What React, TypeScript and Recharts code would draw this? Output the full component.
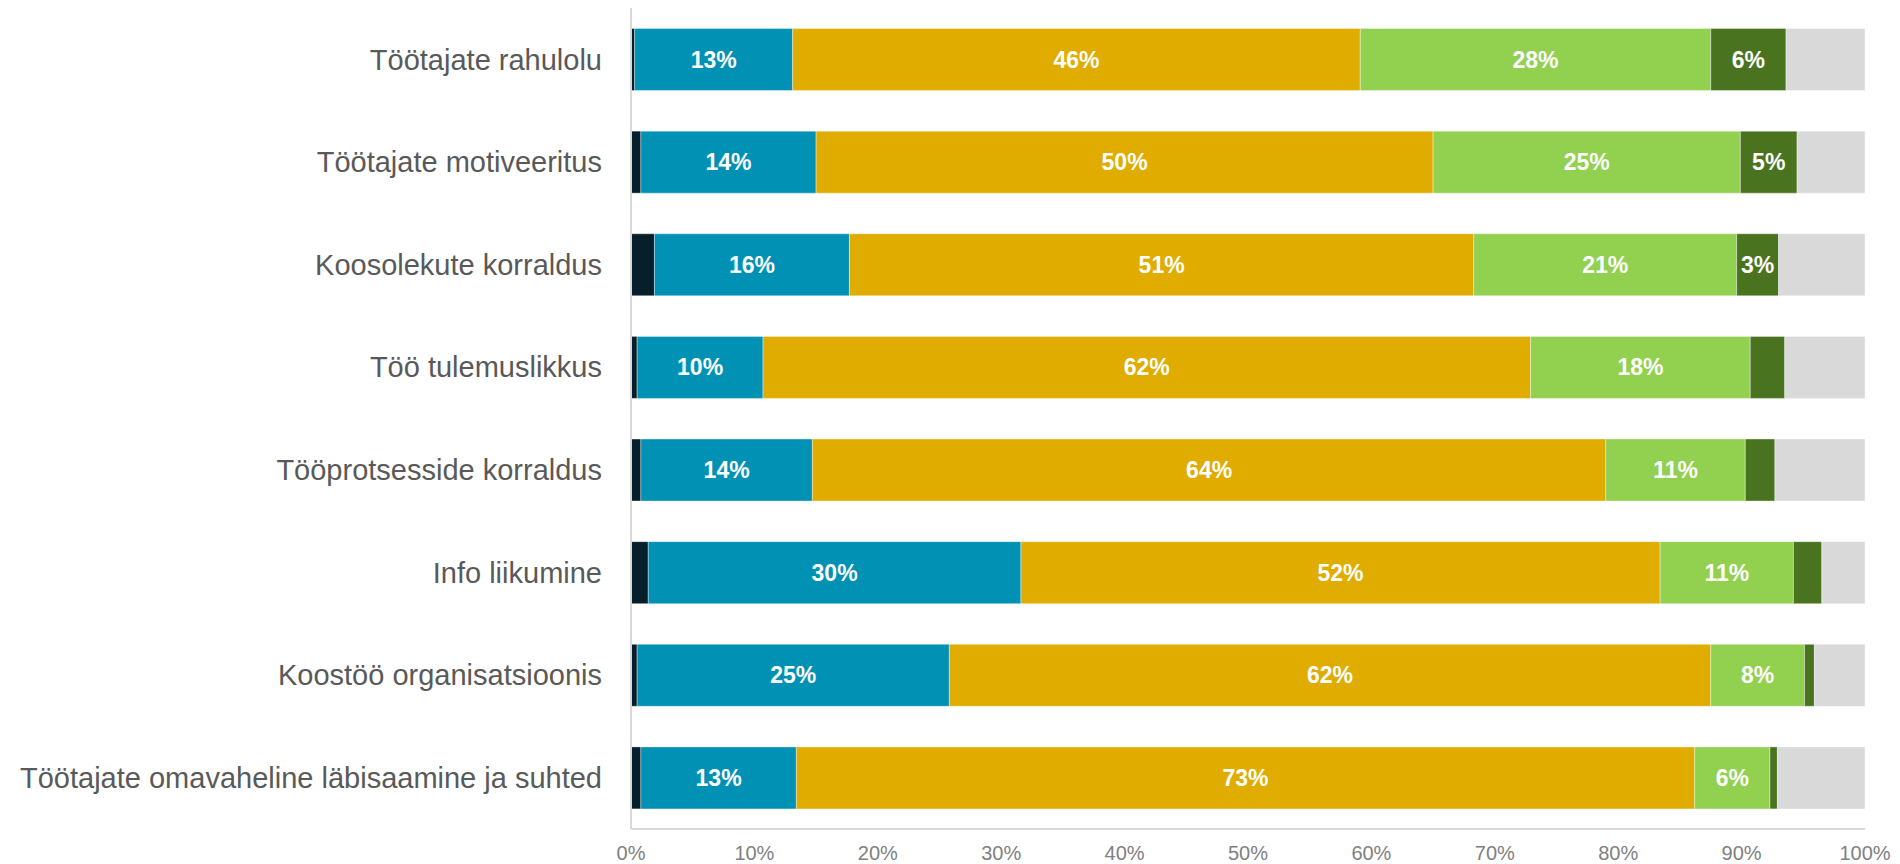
import React from 'react';
import { BarChart, Bar, XAxis, YAxis, LabelList } from 'recharts';

const categories = [
  'Töötajate rahulolu',
  'Töötajate motiveeritus',
  'Koosolekute korraldus',
  'Töö tulemuslikkus',
  'Tööprotsesside korraldus',
  'Info liikumine',
  'Koostöö organisatsioonis',
  'Töötajate omavaheline läbisaamine ja suhted',
];

const veryBad = [0.3, 0.8, 1.9, 0.5, 0.8, 1.4, 0.5, 0.8];
const ratherBad = [12.8, 14.2, 15.8, 10.2, 13.9, 30.2, 25.3, 12.6];
const average = [46.0, 50.0, 50.6, 62.2, 64.3, 51.8, 61.7, 72.8];
const good = [28.4, 24.9, 21.3, 17.8, 11.3, 10.8, 7.6, 6.1];
const veryGood = [6.1, 4.6, 3.4, 2.8, 2.4, 2.3, 0.8, 0.6];
const dontKnow = [6.4, 5.5, 7.0, 6.5, 7.3, 3.5, 4.1, 7.1];

const xTicks = [0, 10, 20, 30, 40, 50, 60, 70, 80, 90, 100];

const series = [
  { key: 'veryBad', name: 'Väga halb', values: veryBad, color: '#061F2B', label: false },
  { key: 'ratherBad', name: 'Pigem halb', values: ratherBad, color: '#0091B5', label: true },
  { key: 'average', name: 'Rahuldav', values: average, color: '#E0AC00', label: true },
  { key: 'good', name: 'Hea', values: good, color: '#92D050', label: true },
  { key: 'veryGood', name: 'Väga hea', values: veryGood, color: '#4A7320', label: true },
  { key: 'dontKnow', name: 'Ei oska öelda', values: dontKnow, color: '#D9D9D9', label: false },
];

const data = categories.map((c, i) => {
  const row: Record<string, string | number> = { category: c };
  series.forEach((s) => {
    row[s.key] = s.values[i];
  });
  return row;
});

const FONT = '"Liberation Sans", Arial, sans-serif';

const renderLabel = (props: any) => {
  const { x, y, width, height, value } = props;
  if (value == null || value < 3) return null;
  return (
    <text
      x={x + width / 2}
      y={y + height / 2}
      fill="#ffffff"
      fontSize={23}
      fontWeight="bold"
      fontFamily={FONT}
      textAnchor="middle"
      dominantBaseline="central"
    >
      {Math.round(value) + '%'}
    </text>
  );
};

export default function App() {
  return (
    <div style={{ position: 'absolute', left: 0, top: 0, background: '#fff' }}>
      <BarChart
        width={1900}
        height={864}
        data={data}
        layout="vertical"
        margin={{ top: 8, right: 35, bottom: 0, left: 0 }}
        barCategoryGap="20%"
      >
        <XAxis
          type="number"
          domain={[0, 100]}
          ticks={xTicks}
          tickFormatter={(v: number) => v + '%'}
          axisLine={{ stroke: '#D9D9D9', strokeWidth: 2 }}
          tickLine={false}
          tickSize={0}
          tickMargin={17}
          height={35}
          tick={{ fill: '#808080', fontSize: 20, fontFamily: FONT }}
          interval={0}
        />
        <YAxis
          type="category"
          dataKey="category"
          width={631}
          axisLine={{ stroke: '#D9D9D9', strokeWidth: 2 }}
          tickLine={false}
          tickSize={0}
          tickMargin={29}
          tick={{ fill: '#595959', fontSize: 29, fontFamily: FONT }}
          interval={0}
        />
        {series.map((s) => (
          <Bar
            key={s.key}
            dataKey={s.key}
            name={s.name}
            stackId="a"
            fill={s.color}
            stroke="#ffffff"
            strokeOpacity={0.5}
            strokeWidth={0.75}
            isAnimationActive={false}
          >
            {s.label && <LabelList dataKey={s.key} content={renderLabel} />}
          </Bar>
        ))}
      </BarChart>
    </div>
  );
}
